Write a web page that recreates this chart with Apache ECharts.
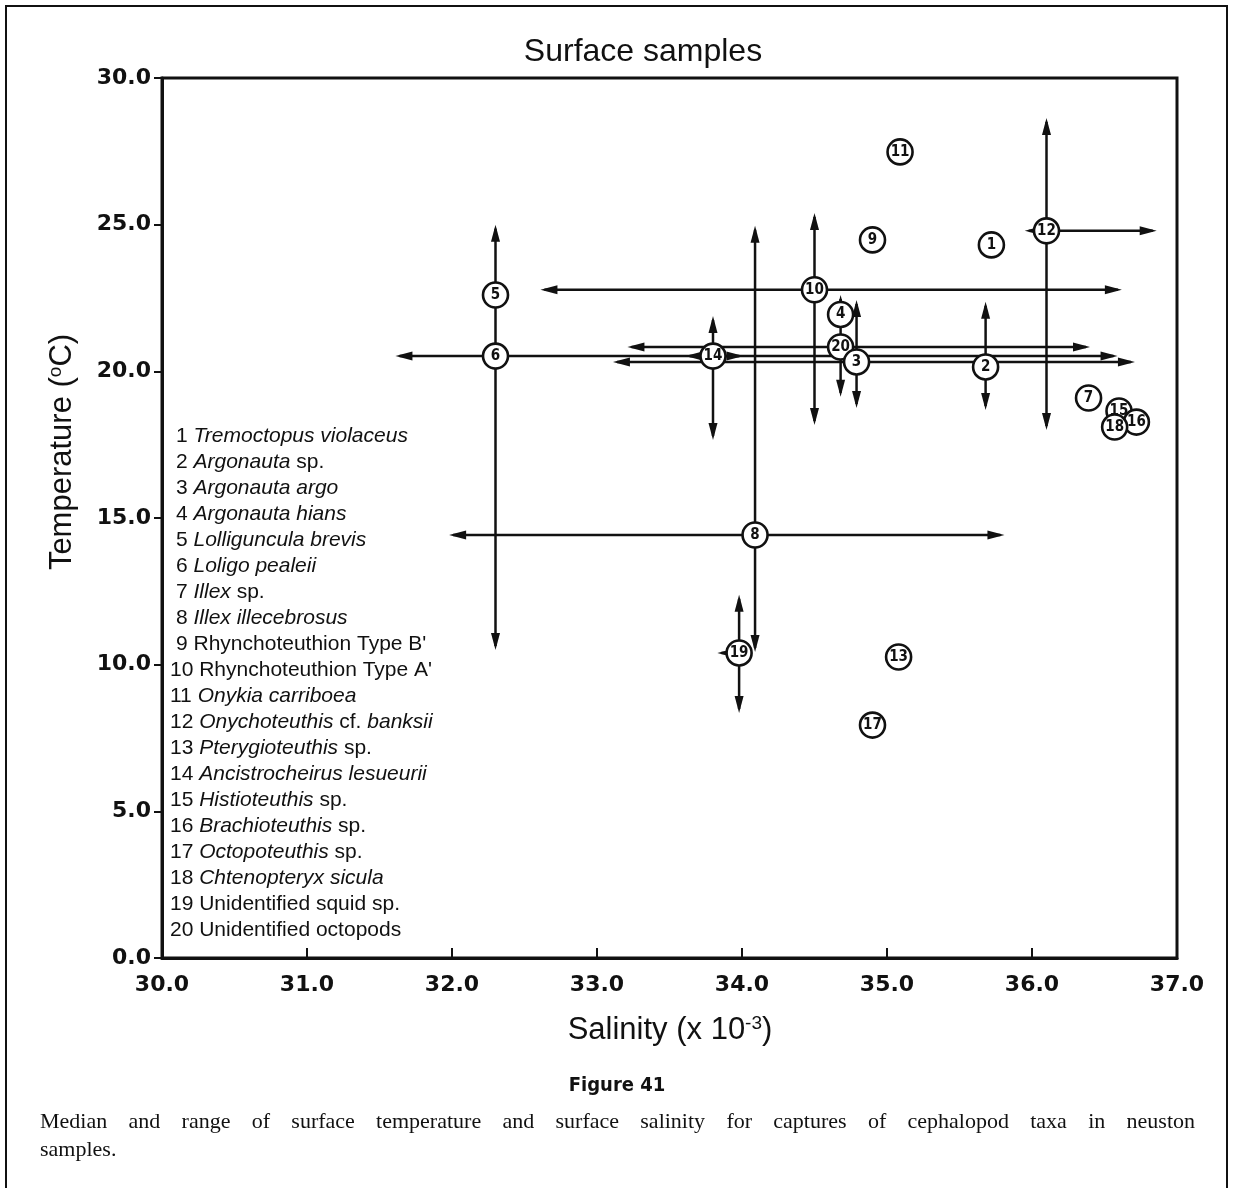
<!DOCTYPE html>
<html>
<head>
<meta charset="utf-8">
<script src="https://cdn.jsdelivr.net/npm/echarts@6/dist/echarts.min.js"></script>
<style>
  html, body { margin: 0; padding: 0; background: #fff; }
  #chart { width: 1233px; height: 1188px; }
</style>
</head>
<body>
<div id="chart"></div>
<script>
// taxon numbers and their medians (salinity, temperature)
const taxa = [1, 2, 3, 4, 5, 6, 7, 8, 9, 10, 11, 12, 13, 14, 15, 16, 17, 18, 19, 20]
const medSal = [35.72, 35.68, 34.79, 34.68, 32.30, 32.30, 36.39, 34.09, 34.90, 34.50,
                35.09, 36.10, 35.08, 33.80, 36.60, 36.72, 34.90, 36.57, 33.98, 34.68]
const medTemp = [24.31, 20.15, 20.32, 21.94, 22.60, 20.52, 19.09, 14.42, 24.48, 22.78,
                 27.48, 24.79, 10.26, 20.52, 18.65, 18.27, 7.94, 18.10, 10.40, 20.83]
// ranges (null = no arrow drawn)
const salLow = [null, null, 33.11, null, null, 31.61, null, 31.98, null, 32.61,
                null, 35.95, null, 33.61, null, null, null, null, 33.83, 33.21]
const salHigh = [null, null, 36.71, null, null, 36.59, null, 35.81, null, 36.62,
                 null, 36.86, null, 34.01, null, null, null, null, null, 36.40]
const tempLow = [null, 18.68, 18.75, null, 20.52, 10.50, null, 10.43, null, 18.17,
                 null, 18.00, null, 17.66, null, null, null, null, 8.35, 19.13]
const tempHigh = [null, 22.37, 22.43, 22.60, 25.00, null, null, 24.96, null, 25.40,
                  null, 28.64, null, 21.89, null, null, null, null, 12.38, 21.94]

const salTicks = [30, 31, 32, 33, 34, 35, 36, 37]
const tempTicks = [0, 5, 10, 15, 20, 25, 30]

const legendLines = [
  '1 {i|Tremoctopus violaceus}',
  '2 {i|Argonauta} sp.',
  '3 {i|Argonauta argo}',
  '4 {i|Argonauta hians}',
  '5 {i|Lolliguncula brevis}',
  '6 {i|Loligo pealeii}',
  '7 {i|Illex} sp.',
  '8 {i|Illex illecebrosus}',
  '9 Rhynchoteuthion Type B\'',
  '10 Rhynchoteuthion Type A\'',
  '11 {i|Onykia carriboea}',
  '12 {i|Onychoteuthis} cf. {i|banksii}',
  '13 {i|Pterygioteuthis} sp.',
  '14 {i|Ancistrocheirus lesueurii}',
  '15 {i|Histioteuthis} sp.',
  '16 {i|Brachioteuthis} sp.',
  '17 {i|Octopoteuthis} sp.',
  '18 {i|Chtenopteryx sicula}',
  '19 Unidentified squid sp.',
  '20 Unidentified octopods'
]

const captionText = 'Median and range of surface temperature and surface salinity for captures of cephalopod taxa in neuston'
const captionText2 = 'samples.'

const ink = '#111'
const narrow = '"Liberation Sans Narrow", "DejaVu Sans Condensed", "Liberation Sans"'

// arrow segments: [x0, y0, x1, y1, showHead]
function endsOnMarker(x, y, self) {
  for (let j = 0; j < taxa.length; j++) {
    if (j !== self && medSal[j] === x && medTemp[j] === y) return true
  }
  return false
}
const segs = []
taxa.forEach((t, i) => {
  const ends = []
  if (salLow[i] != null) ends.push([salLow[i], medTemp[i]])
  if (salHigh[i] != null) ends.push([salHigh[i], medTemp[i]])
  if (tempLow[i] != null) ends.push([medSal[i], tempLow[i]])
  if (tempHigh[i] != null) ends.push([medSal[i], tempHigh[i]])
  ends.forEach(e => {
    segs.push([medSal[i], medTemp[i], e[0], e[1], endsOnMarker(e[0], e[1], i) ? 0 : 1])
  })
})

// 3 is drawn over 20 in the original
const points = taxa.map((t, i) => [medSal[i], medTemp[i], t])
const pointsDrawn = points.filter(p => p[2] !== 3).concat(points.filter(p => p[2] === 3))

const legendEls = legendLines.map((txt, k) => ({
  type: 'text',
  x: k < 9 ? 176 : 170,
  y: 436 + k * 26,
  style: {
    text: txt,
    fontSize: 21, fontFamily: 'Liberation Sans', fill: ink,
    verticalAlign: 'middle',
    textVerticalAlign: 'middle',
    rich: {
      i: { fontSize: 21, fontFamily: 'Liberation Sans', fontStyle: 'italic', fill: ink }
    }
  }
}))

function justify(text, left, right, y) {
  const ctx = document.createElement('canvas').getContext('2d')
  ctx.font = '22px "Liberation Serif"'
  const words = text.split(' ')
  const widths = words.map(w => ctx.measureText(w).width)
  const total = widths.reduce((a, b) => a + b, 0)
  const gap = (right - left - total) / (words.length - 1)
  let x = left
  return words.map((w, k) => {
    const el = {
      type: 'text', x: x, y: y,
      style: { text: w, fontSize: 22, fontFamily: 'Liberation Serif', fill: ink,
               verticalAlign: 'middle', textVerticalAlign: 'middle' }
    }
    x += widths[k] + gap
    return el
  })
}

const chart = echarts.init(document.getElementById('chart'))

const option = {
  backgroundColor: '#fff',
  animation: false,
  grid: {
    left: 162, right: 56, top: 78, bottom: 230,
    show: true, borderColor: ink, borderWidth: 3
  },
  xAxis: {
    type: 'value',
    min: salTicks[0], max: salTicks[salTicks.length - 1], interval: 1,
    axisLine: { show: true, onZero: false, lineStyle: { color: ink, width: 3 } },
    axisTick: { show: true, inside: true, length: 10, lineStyle: { color: ink, width: 2 } },
    axisLabel: {
      formatter: v => v.toFixed(1), color: ink, margin: 16,
      fontSize: 22, fontFamily: 'DejaVu Sans', fontWeight: 'bold'
    },
    splitLine: { show: false }
  },
  yAxis: {
    type: 'value',
    min: tempTicks[0], max: tempTicks[tempTicks.length - 1], interval: 5,
    axisLine: { show: true, onZero: false, lineStyle: { color: ink, width: 3 } },
    axisTick: { show: true, inside: false, length: 8, lineStyle: { color: ink, width: 2 } },
    axisLabel: {
      formatter: v => v.toFixed(1), color: ink, margin: 11,
      fontSize: 22, fontFamily: 'DejaVu Sans', fontWeight: 'bold'
    },
    splitLine: { show: false }
  },
  series: [
    {
      type: 'custom',
      data: segs,
      encode: { x: [0, 2], y: [1, 3] },
      clip: false,
      z: 2,
      silent: true,
      renderItem(params, api) {
        const p0 = api.coord([api.value(0), api.value(1)])
        const p1 = api.coord([api.value(2), api.value(3)])
        const dx = p1[0] - p0[0]
        const dy = p1[1] - p0[1]
        const len = Math.hypot(dx, dy) || 1
        const ux = dx / len
        const uy = dy / len
        const children = [{
          type: 'line',
          shape: { x1: p0[0], y1: p0[1], x2: p1[0] - ux * 4, y2: p1[1] - uy * 4 },
          style: { stroke: ink, lineWidth: 2.5 }
        }]
        if (api.value(4)) {
          const L = 17
          const W = 4.5
          const bx = p1[0] - ux * L
          const by = p1[1] - uy * L
          children.push({
            type: 'polygon',
            shape: { points: [[p1[0], p1[1]], [bx - uy * W, by + ux * W], [bx + uy * W, by - ux * W]] },
            style: { fill: ink }
          })
        }
        return { type: 'group', children }
      }
    },
    {
      type: 'scatter',
      data: pointsDrawn,
      symbol: 'circle',
      symbolSize: 25,
      z: 3,
      silent: true,
      itemStyle: { color: '#fff', borderColor: ink, borderWidth: 2.6, opacity: 1 },
      label: {
        show: true, position: 'inside',
        formatter: p => p.value[2],
        color: ink, fontSize: 15, fontWeight: 'bold', fontFamily: narrow
      },
      emphasis: { disabled: true }
    }
  ],
  graphic: {
    elements: [
      {
        type: 'rect', shape: { x: 6, y: 6, width: 1221, height: 1220 },
        style: { fill: 'none', stroke: ink, lineWidth: 2 }, silent: true
      },
      {
        type: 'text', x: 643, y: 52,
        style: { text: 'Surface samples', fontSize: 32, fontFamily: 'Liberation Sans', fill: ink,
                 align: 'center', textAlign: 'center', verticalAlign: 'middle', textVerticalAlign: 'middle' }
      },
      {
        type: 'text', x: 62, y: 452, rotation: Math.PI / 2,
        style: {
          text: 'Temperature ({s|o}C)', fontSize: 31, fontFamily: 'Liberation Sans', fill: ink,
          align: 'center', textAlign: 'center', verticalAlign: 'middle', textVerticalAlign: 'middle',
          rich: {
            s: { fontSize: 19, fontFamily: 'Liberation Sans', fill: ink, verticalAlign: 'top' }
          }
        }
      },
      {
        type: 'text', x: 670, y: 1030,
        style: {
          text: 'Salinity (x 10{s|-3})', fontSize: 31, fontFamily: 'Liberation Sans', fill: ink,
          align: 'center', textAlign: 'center', verticalAlign: 'middle', textVerticalAlign: 'middle',
          rich: {
            s: { fontSize: 19, fontFamily: 'Liberation Sans', fill: ink, verticalAlign: 'top' }
          }
        }
      },
      ...legendEls,
      {
        type: 'text', x: 617, y: 1086,
        style: { text: 'Figure 41', fontSize: 20, fontWeight: 'bold', fontFamily: narrow,
                 fill: ink, align: 'center', textAlign: 'center',
                 verticalAlign: 'middle', textVerticalAlign: 'middle' }
      },
      ...justify(captionText, 40, 1195, 1122),
      {
        type: 'text', x: 40, y: 1150,
        style: { text: captionText2, fontSize: 22, fontFamily: 'Liberation Serif', fill: ink,
                 verticalAlign: 'middle', textVerticalAlign: 'middle' }
      }
    ]
  }
}

chart.setOption(option)
</script>
</body>
</html>
